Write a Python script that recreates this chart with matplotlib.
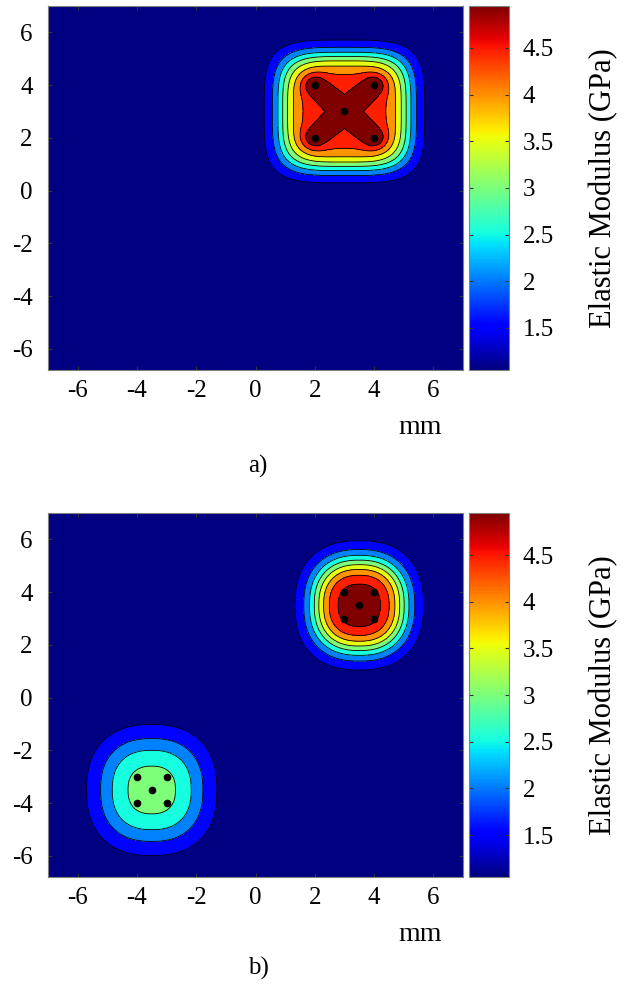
import numpy as np
import matplotlib.pyplot as plt
import matplotlib as mpl

plt.rcParams['font.family'] = ['Liberation Serif', 'DejaVu Serif']
plt.rcParams['axes.unicode_minus'] = False

# panel a: one inclusion, 5 marked points in an X pattern
a_centre = (3.0, 3.0)
a_half = 1.0                              # offset of the corner points (mm)
a_plateau, a_r0, a_w = 0.86, 2.1, 0.30    # rounded-square body
a_arm, a_arm_s = 0.167, 0.40              # X-shaped core
a_dot, a_dot_s = 0.035, 0.40              # lobes round the corner points

# panel b: two round inclusions
b_centres = [(3.5, 3.5), (-3.5, -3.5)]
b_half = [0.5, 0.5]
b_amp = [1.0, 0.52]
b_r0 = [1.44, 1.57]
b_w = [0.333, 0.44]
b_yscale = 1.13

E_background = 1.1
E_range = 3.8
E_cap = 4.9
vmin, vmax = 1.05, 4.95
levels = np.linspace(vmin, vmax, 10)
cbar_ticks = [1.5, 2, 2.5, 3, 3.5, 4, 4.5]
cbar_labels = ['1.5', '2', '2.5', '3', '3.5', '4', '4.5']
xticks = [-6, -4, -2, 0, 2, 4, 6]
yticks = [-6, -4, -2, 0, 2, 4, 6]

x = np.linspace(-7, 7, 421)
y = np.linspace(-6.8, 7, 415)
X, Y = np.meshgrid(x, y)


def marker_points(c, h):
    cx, cy = c
    return [(cx - h, cy - h), (cx + h, cy - h), (cx - h, cy + h), (cx + h, cy + h), (cx, cy)]


def logistic(D, r0, w):
    return 1 / (1 + np.exp((D - r0) / w))


def field_a():
    cx, cy = a_centre
    rho = (np.abs(X - cx) ** 4 + np.abs(Y - cy) ** 4) ** 0.25
    g = a_plateau * logistic(rho, a_r0, a_w)
    # distance to the two diagonals joining the marked points
    D = np.full_like(X, np.inf)
    for px, py in marker_points(a_centre, a_half)[:4]:
        vx, vy = px - cx, py - cy
        t = np.clip(((X - cx) * vx + (Y - cy) * vy) / (vx ** 2 + vy ** 2), 0, 1)
        D = np.minimum(D, np.hypot(X - cx - t * vx, Y - cy - t * vy))
        g += a_dot * np.exp(-((X - px) ** 2 + (Y - py) ** 2) / a_dot_s ** 2)
    g += a_arm * np.exp(-(D / a_arm_s) ** 2)
    return np.minimum(E_background + E_range * g, E_cap)


def field_b():
    E = np.full_like(X, E_background)
    for (cx, cy), A, r0, w in zip(b_centres, b_amp, b_r0, b_w):
        q = 2.4
        D = (np.abs(X - cx) ** q + np.abs((Y - cy) / b_yscale) ** q) ** (1 / q)
        E += E_range * A * logistic(D, r0, w)
    return np.minimum(E, E_cap)


band_colors = plt.cm.jet(np.linspace(0, 1, 9))

fig = plt.figure(figsize=(6.25, 9.9), dpi=100)

panels = [
    (field_a(), [a_centre], [a_half], 0.6263, "a)", 0.529),
    (field_b(), b_centres, b_half, 0.1141, "b)", 0.022),
]

for E, centres, halves, bottom, tag, tag_y in panels:
    ax = fig.add_axes([0.0768, bottom, 0.664, 0.3677])
    ax.contourf(X, Y, E, levels=levels, colors=band_colors)
    ax.contour(X, Y, E, levels=levels[1:-1], colors='k', linewidths=0.6)
    for c, h in zip(centres, halves):
        pts = np.array(marker_points(c, h))
        ax.plot(pts[:, 0], pts[:, 1], 'o', color='k', markersize=4.5)
    ax.set_xlim(-7, 7)
    ax.set_ylim(-6.8, 7)
    ax.set_xticks(xticks)
    ax.set_yticks(yticks)
    ax.tick_params(direction='in', length=3, top=True, right=True, labelsize=18,
                   color='#333333')
    ax.tick_params(axis='x', pad=7)
    ax.tick_params(axis='y', pad=11)
    for s in ax.spines.values():
        s.set_color('#808080')
        s.set_linewidth(0.8)
    fig.text(0.672, bottom - 0.058, "mm", fontsize=20, ha='center', va='center')
    fig.text(0.413, tag_y, tag, fontsize=18, ha='center', va='center')

    cax = fig.add_axes([0.7504, bottom, 0.064, 0.3677])
    sm = mpl.cm.ScalarMappable(norm=mpl.colors.Normalize(vmin, vmax), cmap='jet')
    cb = fig.colorbar(sm, cax=cax, ticks=cbar_ticks)
    cb.ax.set_yticklabels(cbar_labels)
    cb.ax.tick_params(direction='in', length=3, left=True, right=True, labelsize=18,
                      color='#333333', pad=10)
    cb.outline.set_edgecolor('#808080')
    cb.outline.set_linewidth(0.8)
    fig.text(0.965, bottom + 0.3677 / 2, "Elastic Modulus (GPa)", fontsize=22,
             rotation=90, ha='center', va='center')

fig.savefig("out.png", dpi=100)
